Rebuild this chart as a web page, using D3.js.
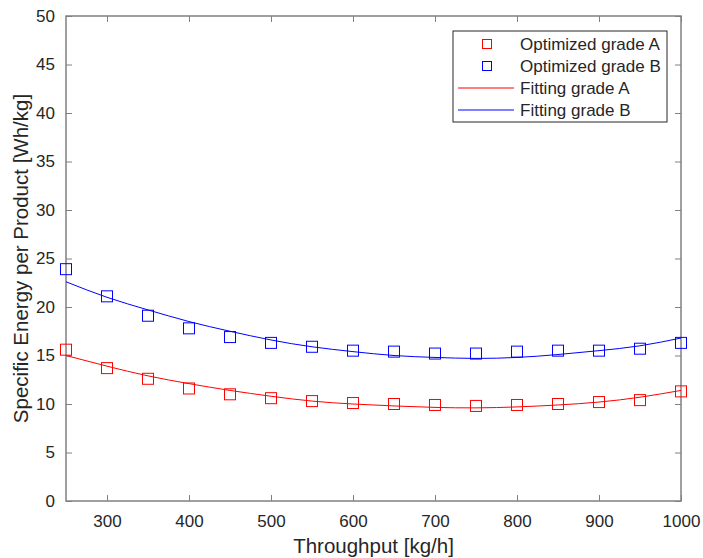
<!DOCTYPE html>
<html><head><meta charset="utf-8">
<script src="https://cdn.jsdelivr.net/npm/d3@7/dist/d3.min.js"></script>
<style>body{margin:0;background:#fff}svg{font-family:"Liberation Sans",Arial,sans-serif}</style>
</head><body><svg id="c" width="703" height="558"></svg>
<script>
const throughput = [250,300,350,400,450,500,550,600,650,700,750,800,850,900,950,1000];
const optA = [15.6,13.7,12.6,11.6,11.0,10.6,10.3,10.1,10.0,9.9,9.8,9.9,10.0,10.2,10.4,11.3];
const optB = [23.9,21.1,19.1,17.8,16.9,16.3,15.9,15.5,15.4,15.2,15.2,15.4,15.5,15.5,15.7,16.3];
const fitA = [15.0,13.9,12.9,12.1,11.4,10.8,10.3,10.0,9.8,9.65,9.6,9.7,9.9,10.2,10.7,11.4];
const fitB = [22.6,21.0,19.7,18.5,17.5,16.6,15.9,15.4,15.0,14.8,14.7,14.8,15.1,15.5,16.0,16.8];
const xTicks = [300,400,500,600,700,800,900,1000];
const yTicks = [0,5,10,15,20,25,30,35,40,45,50];
const legendLabels = ["Optimized grade A","Optimized grade B","Fitting grade A","Fitting grade B"];
const red = "#ff0000", blue = "#0000ff";

const svg = d3.select("#c");
const L=66, R=681, T=16, B=501;
const x = d3.scaleLinear().domain([250,1000]).range([L,R]);
const y = d3.scaleLinear().domain([0,50]).range([B,T]);
const axisColor = "#808080", textColor = "#262626";

svg.append("rect").attr("x",L).attr("y",T).attr("width",R-L).attr("height",B-T)
  .attr("fill","none").attr("stroke",axisColor).attr("stroke-width",1.5);

function styleAxis(g){
  g.select(".domain").remove();
  g.selectAll(".tick line").attr("stroke",axisColor);
  g.selectAll(".tick text").attr("fill",textColor).style("font-size","17px").style("font-family","'Liberation Sans',Arial,sans-serif");
}
const gx = svg.append("g").attr("transform",`translate(0,${B})`)
  .call(d3.axisBottom(x).tickValues(xTicks).tickSize(-6).tickPadding(14).tickFormat(d3.format("d")));
styleAxis(gx);
const gxt = svg.append("g").attr("transform",`translate(0,${T})`)
  .call(d3.axisTop(x).tickValues(xTicks).tickSize(-6).tickFormat(""));
styleAxis(gxt);
const gy = svg.append("g").attr("transform",`translate(${L},0)`)
  .call(d3.axisLeft(y).tickValues(yTicks).tickSize(-6).tickPadding(11));
styleAxis(gy);
const gyr = svg.append("g").attr("transform",`translate(${R},0)`)
  .call(d3.axisRight(y).tickValues(yTicks).tickSize(-6).tickFormat(""));
styleAxis(gyr);

svg.append("text").attr("x",(L+R)/2).attr("y",553).attr("text-anchor","middle")
  .attr("fill",textColor).style("font-size","20.5px").text("Throughput [kg/h]");
svg.append("text").attr("transform",`translate(28,${(T+B)/2}) rotate(-90)`).attr("text-anchor","middle")
  .attr("fill",textColor).style("font-size","20.5px").text("Specific Energy per Product [Wh/kg]");

const line = d3.line().curve(d3.curveNatural);
function drawFit(vals,color){
  svg.append("path").attr("d",line(throughput.map((t,i)=>[x(t),y(vals[i])])))
    .attr("fill","none").attr("stroke",color).attr("stroke-width",1);
}
drawFit(fitA,red); drawFit(fitB,blue);
function drawPts(vals,color){
  svg.append("g").selectAll("rect").data(throughput).join("rect")
    .attr("x",(d)=>x(d)-5.5).attr("y",(d,i)=>y(vals[i])-5.5).attr("width",11).attr("height",11)
    .attr("fill","none").attr("stroke",color).attr("stroke-width",1);
}
drawPts(optA,red); drawPts(optB,blue);

const lg = svg.append("g");
lg.append("rect").attr("x",453).attr("y",31).attr("width",214).attr("height",91)
  .attr("fill","#fff").attr("stroke",textColor).attr("stroke-width",1);
const colors=[red,blue,red,blue];
legendLabels.forEach((lab,i)=>{
  const cy = 44 + i*22;
  if(i<2){
    lg.append("rect").attr("x",487-4.5).attr("y",cy-4.5).attr("width",9).attr("height",9)
      .attr("fill","none").attr("stroke",colors[i]).attr("stroke-width",1);
  } else {
    lg.append("line").attr("x1",458).attr("x2",514).attr("y1",cy).attr("y2",cy)
      .attr("stroke",colors[i]).attr("stroke-width",1);
  }
  lg.append("text").attr("x",520).attr("y",cy+6).attr("fill",textColor)
    .style("font-size","17px").text(lab);
});
</script></body></html>
